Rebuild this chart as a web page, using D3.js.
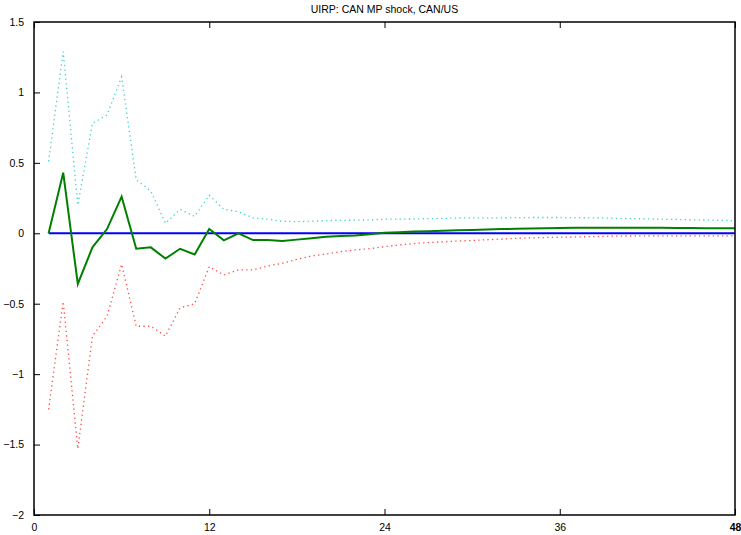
<!DOCTYPE html>
<html><head><meta charset="utf-8">
<script src="https://cdn.jsdelivr.net/npm/d3@7"></script>
<style>body{margin:0;background:#fff}svg{display:block}text{font-family:"Liberation Sans",Arial,sans-serif}</style>
</head><body><svg id="c" width="741" height="535"></svg>
<script>
const title = "UIRP: CAN MP shock, CAN/US";
const xTicks = [0, 12, 24, 36, 48];
const yTicks = [-2, -1.5, -1, -0.5, 0, 0.5, 1, 1.5];
const horizon = d3.range(1, 49);
const response = [0, 0.43, -0.36, -0.10, 0.03, 0.26, -0.11, -0.10, -0.18, -0.11, -0.15, 0.03,
  -0.05, 0.0, -0.048, -0.048, -0.055, -0.045, -0.035, -0.025, -0.02, -0.015, -0.006, 0.003,
  0.008, 0.012, 0.015, 0.018, 0.021, 0.024, 0.027, 0.03, 0.032, 0.034, 0.036, 0.038,
  0.039, 0.04, 0.04, 0.04, 0.04, 0.039, 0.039, 0.038, 0.037, 0.036, 0.036, 0.035];
const upper = [0.51, 1.29, 0.20, 0.78, 0.84, 1.11, 0.38, 0.30, 0.07, 0.17, 0.12, 0.27,
  0.17, 0.153, 0.11, 0.10, 0.085, 0.083, 0.085, 0.09, 0.092, 0.093, 0.095, 0.10,
  0.10, 0.102, 0.104, 0.106, 0.108, 0.11, 0.11, 0.11, 0.111, 0.112, 0.112, 0.112,
  0.111, 0.11, 0.108, 0.106, 0.104, 0.102, 0.10, 0.098, 0.096, 0.094, 0.092, 0.09];
const lower = [-1.25, -0.485, -1.53, -0.73, -0.59, -0.22, -0.66, -0.66, -0.73, -0.53, -0.50, -0.237,
  -0.296, -0.26, -0.26, -0.232, -0.213, -0.185, -0.161, -0.147, -0.13, -0.118, -0.109, -0.095,
  -0.083, -0.073, -0.066, -0.06, -0.055, -0.051, -0.046, -0.041, -0.036, -0.033, -0.03, -0.028,
  -0.026, -0.024, -0.022, -0.02, -0.019, -0.019, -0.019, -0.019, -0.019, -0.019, -0.019, -0.019];
const baseline = horizon.map(() => 0);

const svg = d3.select("#c");
const L = 34, R = 735, T = 22, B = 515;
const x = d3.scaleLinear().domain([0, 48]).range([L, R]);
const y = d3.scaleLinear().domain([-2, 1.5]).range([B, T]);

svg.append("text").attr("x", (L + R) / 2).attr("y", 13).attr("text-anchor", "middle")
  .attr("font-size", 10.5).text(title);

const line = d3.line().x(d => x(d[0])).y(d => y(d[1]));
const pts = arr => horizon.map((h, i) => [h, arr[i]]);

svg.append("path").attr("d", line(pts(upper))).attr("fill", "none")
  .attr("stroke", "#3fd0d0").attr("stroke-width", 1.3).attr("stroke-dasharray", "1.3,3.3");
svg.append("path").attr("d", line(pts(lower))).attr("fill", "none")
  .attr("stroke", "#ff4a4a").attr("stroke-width", 1.3).attr("stroke-dasharray", "1.3,3.3");
svg.append("path").attr("d", line(pts(baseline))).attr("fill", "none")
  .attr("stroke", "#0000ff").attr("stroke-width", 2);
svg.append("path").attr("d", line(pts(response))).attr("fill", "none")
  .attr("stroke", "#008000").attr("stroke-width", 2);

// axes
const gb = svg.append("g").attr("transform", `translate(0,${B})`)
  .call(d3.axisBottom(x).tickValues(xTicks).tickSizeInner(-6).tickSizeOuter(0).tickPadding(10).tickFormat(d3.format("d")));
const gt = svg.append("g").attr("transform", `translate(0,${T})`)
  .call(d3.axisTop(x).tickValues(xTicks).tickSizeInner(-6).tickSizeOuter(0).tickFormat(""));
const gl = svg.append("g").attr("transform", `translate(${L},0)`)
  .call(d3.axisLeft(y).tickValues(yTicks).tickSizeInner(-6).tickSizeOuter(0).tickPadding(10)
    .tickFormat(d => d3.format("")(d).replace("-", "\u2212")));
[gb, gt, gl].forEach(g => {
  g.select(".domain").remove();
  g.selectAll("line").attr("stroke", "#000").attr("stroke-width", 1);
  g.selectAll("text").attr("font-size", 10.5).attr("fill", "#000").attr("font-family", "Liberation Sans, Arial, sans-serif");
});
gb.selectAll("text").attr("dy", "0.6em");
gb.selectAll(".tick").filter(d => d === 48).select("text").attr("font-weight", "bold");
svg.append("rect").attr("x", L).attr("y", T).attr("width", R - L).attr("height", B - T)
  .attr("fill", "none").attr("stroke", "#000").attr("stroke-width", 1.5);
</script></body></html>
